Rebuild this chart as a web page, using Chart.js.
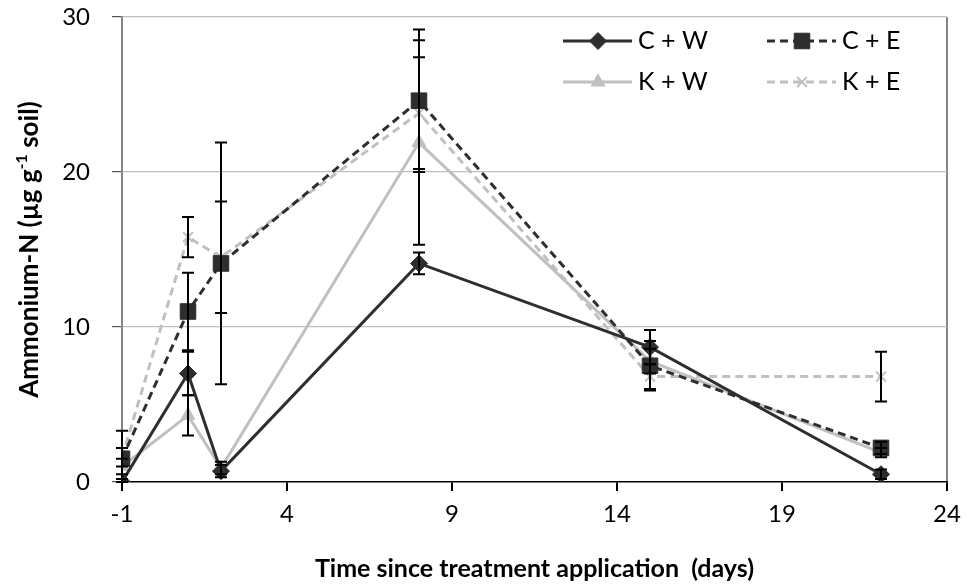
<!DOCTYPE html>
<html>
<head>
<meta charset="utf-8">
<script src="https://cdn.jsdelivr.net/npm/chart.js@4.4.0/dist/chart.umd.min.js"></script>
<style>
html, body { margin: 0; padding: 0; background: #fff; }
#wrap { width: 966px; height: 588px; }
</style>
</head>
<body>
<div id="wrap"><canvas id="chart"></canvas></div>
<script>
// sampling days
const days = [-1, 1, 2, 8, 15, 22];
const xTicks = [-1, 4, 9, 14, 19, 24];

// ammonium-N means and error bars per treatment
const cwVals = [0, 7.0, 0.7, 14.1, 8.7, 0.5];
const cwErr = [0.2, 1.4, 0.4, 0.7, 1.1, 0.3];
const ceVals = [1.5, 11.0, 14.1, 24.6, 7.5, 2.2];
const ceErr = [1.8, 2.5, 7.8, 4.6, 1.6, 0.4];
const kwVals = [1.0, 4.3, 0.9, 21.9, 7.8, 1.9];
const kwErr = [0.5, 1.3, 0.4, 6.6, 0.8, 0.3];
const keVals = [1.6, 15.8, 14.5, 23.8, 6.8, 6.8];
const keErr = [0.6, 1.3, 3.6, 3.6, 0.8, 1.6];

const FONT = 'Lato, "Open Sans", sans-serif';
const dark = '#2e2e2e';
const light = '#c0c0c0';

const toPoints = vals => vals.map((v, i) => ({ x: days[i], y: v }));

const makeSet = (label, vals, errs, color, dash, style, radius) => ({
    label: label,
    data: toPoints(vals),
    errors: errs,
    borderColor: color,
    borderWidth: 3,
    borderDash: dash,
    pointStyle: style,
    pointRadius: radius,
    pointBackgroundColor: color,
    pointBorderColor: color,
    pointBorderWidth: style === 'crossRot' ? 2 : 1,
    tension: 0,
    fill: false
});

// error bars on top of the lines
const errorBars = {
    id: 'errorBars',
    afterDatasetsDraw(chart) {
        const { ctx, scales: { x, y } } = chart;
        ctx.save();
        ctx.strokeStyle = '#000';
        ctx.lineWidth = 2;
        chart.data.datasets.forEach(ds => {
            ds.data.forEach((p, i) => {
                const e = ds.errors[i];
                const px = x.getPixelForValue(p.x);
                const top = y.getPixelForValue(p.y + e);
                const bot = y.getPixelForValue(Math.max(p.y - e, 0));
                ctx.beginPath();
                ctx.moveTo(px, top); ctx.lineTo(px, bot);
                ctx.moveTo(px - 6, top); ctx.lineTo(px + 6, top);
                ctx.moveTo(px - 6, bot); ctx.lineTo(px + 6, bot);
                ctx.stroke();
            });
        });
        ctx.restore();
    }
};

// legend inside the plot, two columns
const insideLegend = {
    id: 'insideLegend',
    afterDraw(chart) {
        const { ctx, chartArea } = chart;
        const cols = [chartArea.right - 384, chartArea.right - 180];
        const rows = [chartArea.top + 24, chartArea.top + 65];
        ctx.save();
        chart.data.datasets.forEach((ds, i) => {
            const lx = cols[i % 2];
            const ly = rows[Math.floor(i / 2)];
            ctx.strokeStyle = ds.borderColor;
            ctx.lineWidth = 3;
            ctx.setLineDash(ds.borderDash || []);
            ctx.beginPath();
            ctx.moveTo(lx, ly); ctx.lineTo(lx + 69, ly);
            ctx.stroke();
            ctx.setLineDash([]);
            ctx.fillStyle = ds.pointBackgroundColor;
            ctx.strokeStyle = ds.pointBorderColor;
            ctx.lineWidth = ds.pointBorderWidth;
            Chart.helpers.drawPoint(ctx, {
                pointStyle: ds.pointStyle,
                radius: ds.pointRadius,
                borderWidth: ds.pointBorderWidth,
                rotation: 0
            }, lx + 35, ly);
            ctx.fillStyle = '#000';
            ctx.font = '25px ' + FONT;
            ctx.textBaseline = 'middle';
            ctx.textAlign = 'left';
            ctx.fillText(ds.label, lx + 75, ly);
        });
        ctx.restore();
    }
};

// y title with a real superscript
const yTitle = {
    id: 'yTitle',
    afterDraw(chart) {
        const { ctx, chartArea } = chart;
        const cy = (chartArea.top + chartArea.bottom) / 2;
        const a = 'Ammonium-N (µg g', sup = '-1', b = ' soil)';
        ctx.save();
        ctx.translate(30, cy);
        ctx.rotate(-Math.PI / 2);
        ctx.fillStyle = '#000';
        ctx.textBaseline = 'middle';
        ctx.textAlign = 'left';
        ctx.font = 'bold 26px ' + FONT;
        const wa = ctx.measureText(a).width, wb = ctx.measureText(b).width;
        ctx.font = 'bold 16px ' + FONT;
        const ws = ctx.measureText(sup).width;
        let sx = -(wa + ws + wb) / 2;
        ctx.font = 'bold 26px ' + FONT;
        ctx.fillText(a, sx, 0);
        ctx.font = 'bold 16px ' + FONT;
        ctx.fillText(sup, sx + wa, -8);
        ctx.font = 'bold 26px ' + FONT;
        ctx.fillText(b, sx + wa + ws, 0);
        ctx.restore();
    }
};

new Chart(document.getElementById('chart'), {
    type: 'line',
    data: {
        datasets: [
            makeSet('C + W', cwVals, cwErr, dark, [], 'rectRot', 8.5),
            makeSet('C + E', ceVals, ceErr, dark, [8, 5], 'rect', 11),
            makeSet('K + W', kwVals, kwErr, light, [], 'triangle', 8),
            makeSet('K + E', keVals, keErr, light, [8, 5], 'crossRot', 7)
        ]
    },
    options: {
        responsive: true,
        maintainAspectRatio: false,
        animation: false,
        layout: {
            padding: 0
        },
        plugins: {
            legend: { display: false },
            tooltip: { enabled: false }
        },
        scales: {
            x: {
                type: 'linear',
                min: -1,
                max: 24,
                afterBuildTicks: s => { s.ticks = xTicks.map(v => ({ value: v })); },
                afterFit: s => {
                    s.height = 106;
                    s.paddingLeft = 0;
                    s.paddingRight = 19;
                },
                grid: {
                    drawOnChartArea: true,
                    color: ctx => ctx.tick && ctx.tick.value === 24 ? '#868686' : 'rgba(0,0,0,0)',
                    lineWidth: 2,
                    tickColor: '#000',
                    tickLength: 9
                },
                border: { display: true, color: '#000', width: 1.5 },
                ticks: {
                    padding: 9,
                    color: '#000',
                    font: { family: FONT, size: 24 }
                },
                title: {
                    display: true,
                    text: 'Time since treatment application  (days)',
                    color: '#000',
                    font: { family: FONT, size: 25, weight: 'bold' },
                    padding: { top: 0, bottom: 4 }
                }
            },
            y: {
                min: 0,
                max: 30,
                afterFit: s => {
                    s.width = 122;
                    s.paddingTop = 17;
                    s.paddingBottom = 0;
                },
                grid: {
                    color: ctx => ctx.tick && ctx.tick.value === 0 ? 'rgba(0,0,0,0)' : '#bfbfbf',
                    lineWidth: 1.2,
                    tickColor: '#555',
                    tickLength: 10
                },
                border: { display: true, color: '#868686', width: 2 },
                ticks: {
                    stepSize: 10,
                    padding: 22,
                    color: '#000',
                    font: { family: FONT, size: 24 }
                }
            }
        }
    },
    plugins: [errorBars, insideLegend, yTitle]
});
</script>
</body>
</html>
